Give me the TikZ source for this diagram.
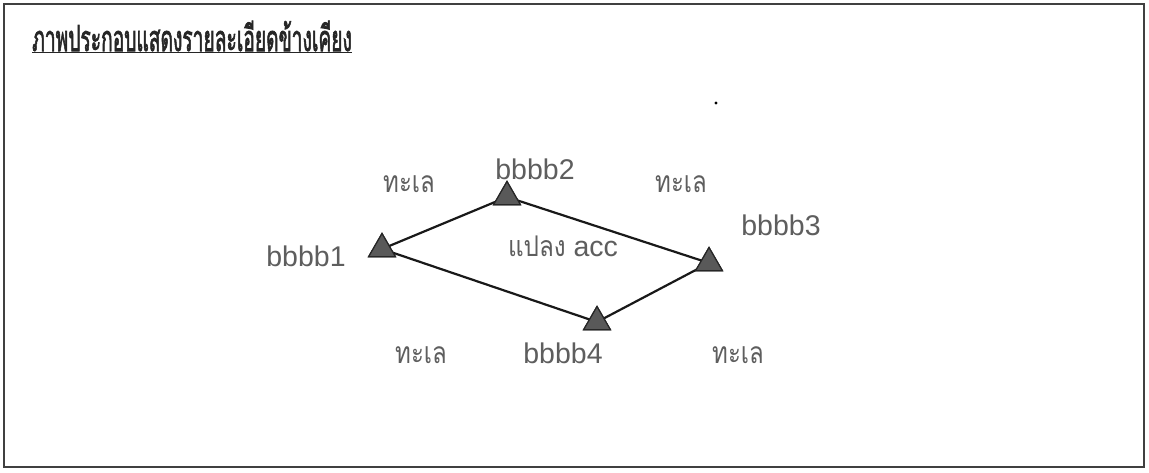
\documentclass[tikz,border=0pt]{standalone}
\usepackage{fontspec}
\setmainfont{Liberation Sans}
\newfontfamily\thaifont[Script=Thai]{Loma}
\newfontfamily\thaibold[Script=Thai,FakeBold=2.5]{Loma}
\usetikzlibrary{shapes.geometric}
\definecolor{txt}{HTML}{5E5E5E}
\definecolor{tri}{HTML}{595959}
\tikzset{
  pt/.style={regular polygon, regular polygon sides=3, draw=black!85, fill=tri, line width=1.2pt, minimum size=31pt, inner sep=0pt},
  lbl/.style={text=txt, font=\fontsize{28.5}{30}\selectfont, inner sep=0pt},
  sea/.style={text=txt, font=\thaifont\fontsize{30}{32}\selectfont, inner sep=0pt},
  edge/.style={line width=2.2pt, black!90}
}
\newcommand{\seatext}{\scalebox{0.8}[1]{ทะเล}}
\begin{document}
\begin{tikzpicture}[x=1pt,y=-1pt]
\useasboundingbox (0,0) rectangle (1149,472);
\fill[white] (0,0) rectangle (1149,472);
\draw[line width=1.6pt, black!75] (4,4) rectangle (1144,467);
\node[anchor=west, text=black!85, inner sep=0pt, font=\thaibold\fontsize{32}{34}\selectfont] (title) at (32,37) {\scalebox{0.6}[1.12]{\underbar{ภาพประกอบแสดงรายละเอียดข้างเคียง}}};
\node[pt] (p1) at (382,249) {};
\node[pt] (p2) at (507,197) {};
\node[pt] (p3) at (709,263) {};
\node[pt] (p4) at (597,322) {};
\draw[edge] (p1.center) -- (p2.center) -- (p3.center) -- (p4.center) -- (p1.center);
\node[pt] at (p1) {};
\node[pt] at (p2) {};
\node[pt] at (p3) {};
\node[pt] at (p4) {};
\node[lbl] (l1) at (306,256) {bbbb1};
\node[lbl] (l2) at (535,169) {bbbb2};
\node[lbl] (l3) at (781,225) {bbbb3};
\node[lbl] (l4) at (563,353) {bbbb4};
\node[lbl] (acc) at (563,246) {{\thaifont\scalebox{0.85}[1]{แปลง}} acc};
\node[sea] (s1) at (409,184) {\seatext};
\node[sea] (s2) at (681,184) {\seatext};
\node[sea] (s3) at (421,355) {\seatext};
\node[sea] (s4) at (738,355) {\seatext};
\fill[black] (716,103) circle (1.6pt);
\end{tikzpicture}
\end{document}
